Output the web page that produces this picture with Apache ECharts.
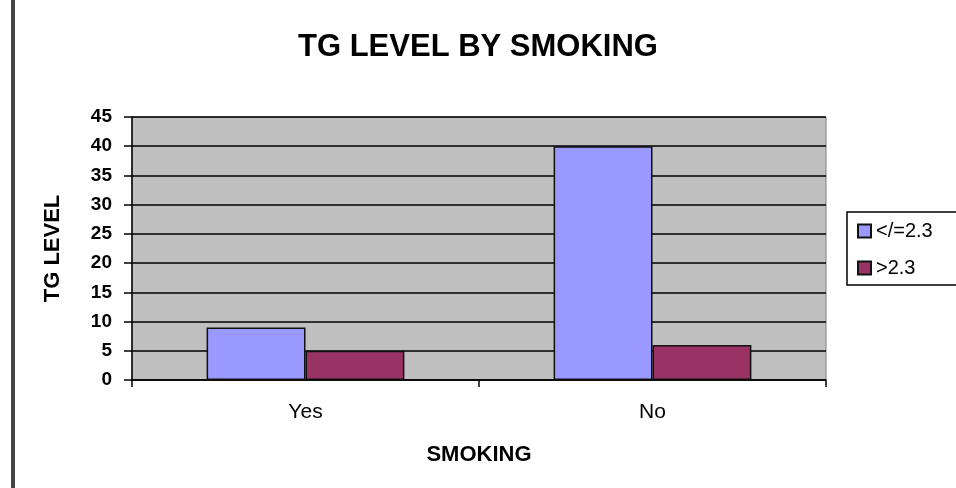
<!DOCTYPE html>
<html>
<head>
<meta charset="utf-8">
<script src="https://cdn.jsdelivr.net/npm/echarts@6/dist/echarts.min.js"></script>
<style>
  html, body { margin: 0; padding: 0; background: #fff; }
  #main { width: 956px; height: 488px; }
</style>
</head>
<body>
<div id="main"></div>
<script>
// data
var categories = ['Yes', 'No'];
var seriesNames = ['</=2.3', '>2.3'];
var lowValues = [9, 40];
var highValues = [5, 6];
var colors = ['#9999ff', '#993366'];

var chart = echarts.init(document.getElementById('main'));
var font = 'Liberation Sans, Arial, sans-serif';

var option = {
    animation: false,
    title: {
        text: 'TG LEVEL BY SMOKING',
        left: 'center',
        top: 27,
        textStyle: { fontFamily: font, fontSize: 31, fontWeight: 'bold', color: '#000' }
    },
    graphic: [{
        type: 'rect',
        shape: { x: 11, y: 0, width: 4, height: 488 },
        style: { fill: '#444' }
    }],
    legend: {
        orient: 'vertical',
        left: 847,
        top: 212,
        padding: [9, 40, 7, 10],
        itemGap: 17,
        itemWidth: 13,
        itemHeight: 13,
        icon: 'rect',
        backgroundColor: '#fff',
        borderColor: '#000',
        borderWidth: 1.5,
        textStyle: { fontFamily: font, fontSize: 20, color: '#000' },
        data: seriesNames
    },
    grid: {
        left: 132, right: 130, top: 117, bottom: 108,
        show: true,
        backgroundColor: '#c0c0c0',
        borderColor: '#808080',
        borderWidth: 1
    },
    xAxis: {
        type: 'category',
        data: categories,
        name: 'SMOKING',
        nameLocation: 'middle',
        nameGap: 64,
        nameTextStyle: { fontFamily: font, fontSize: 22, fontWeight: 'bold', color: '#000' },
        axisLine: { lineStyle: { color: '#000', width: 1.5 } },
        axisTick: { show: true, length: 7, lineStyle: { color: '#000', width: 1.5 } },
        axisLabel: { fontFamily: font, fontSize: 21, color: '#000', margin: 22 }
    },
    yAxis: {
        type: 'value',
        min: 0,
        max: 45,
        interval: 5,
        name: 'TG LEVEL',
        nameLocation: 'middle',
        nameGap: 68,
        nameTextStyle: { fontFamily: font, fontSize: 22, fontWeight: 'bold', color: '#000' },
        axisLine: { show: true, lineStyle: { color: '#000', width: 1.5 } },
        axisTick: { show: true, length: 8, lineStyle: { color: '#000', width: 1.5 } },
        axisLabel: { fontFamily: font, fontSize: 19, fontWeight: 'bold', color: '#000', margin: 20 },
        splitLine: { show: true, lineStyle: { color: '#000', width: 1.5 } }
    },
    series: [{
        name: seriesNames[0],
        type: 'bar',
        data: lowValues,
        barGap: '0%',
        barCategoryGap: '43%',
        itemStyle: { color: colors[0], borderColor: '#111', borderWidth: 1.5 }
    }, {
        name: seriesNames[1],
        type: 'bar',
        data: highValues,
        barGap: '0%',
        barCategoryGap: '43%',
        itemStyle: { color: colors[1], borderColor: '#111', borderWidth: 1.5 }
    }]
};

chart.setOption(option);
</script>
</body>
</html>
